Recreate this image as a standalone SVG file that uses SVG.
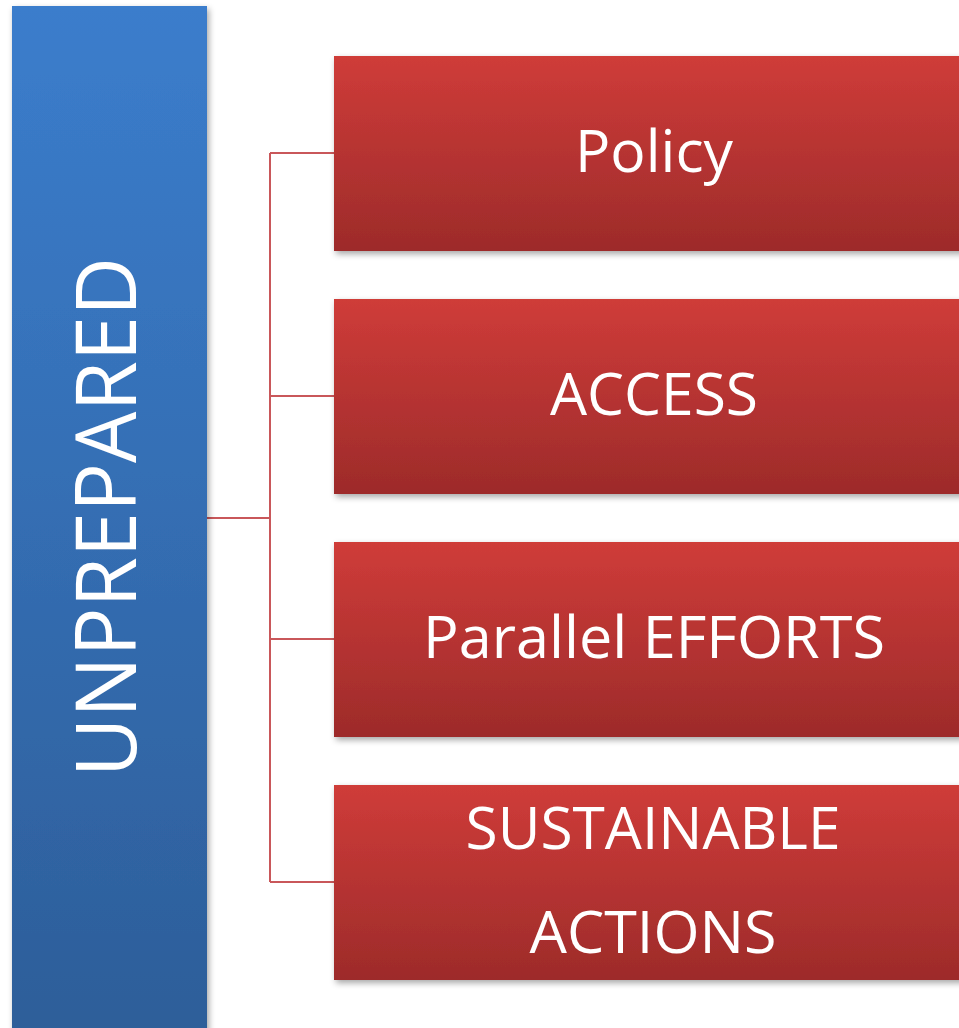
<svg xmlns="http://www.w3.org/2000/svg" width="959" height="1028" viewBox="0 0 959 1028">
<style>
.lbl{font-family:"Open Sans","Liberation Sans",sans-serif;fill:#ffffff;text-anchor:middle}
.big{font-size:58px}
.conn{fill:none;stroke:#c9575a;stroke-width:2}
</style>
<defs>
<linearGradient id="gb" x1="0" y1="0" x2="0" y2="1">
<stop offset="0" stop-color="#3b7dcc"/>
<stop offset="1" stop-color="#2d5e99"/>
</linearGradient>
<linearGradient id="gr" x1="0" y1="0" x2="0" y2="1">
<stop offset="0" stop-color="#cf3c39"/>
<stop offset="1" stop-color="#9d2b2a"/>
</linearGradient>
<filter id="sh" x="-5%" y="-5%" width="115%" height="115%">
<feDropShadow dx="2" dy="3" stdDeviation="3" flood-color="#000" flood-opacity="0.35"/>
</filter>
</defs>
<rect width="959" height="1028" fill="#ffffff"/>
<g id="connectors">
<path class="conn" d="M207 518H270M270 153V882M270 153H334M270 396H334M270 639H334M270 882H334"/>
</g>
<g id="unprepared">
<rect x="12" y="6" width="195" height="1030" fill="url(#gb)" filter="url(#sh)"/>
<text class="lbl" transform="translate(136,517) rotate(-90)" font-size="84" textLength="520" lengthAdjust="spacingAndGlyphs">UNPREPARED</text>
</g>
<g id="policy">
<rect x="334" y="56" width="640" height="195" fill="url(#gr)" filter="url(#sh)"/>
<text class="lbl big" x="654" y="172" textLength="158" lengthAdjust="spacingAndGlyphs">Policy</text>
</g>
<g id="access">
<rect x="334" y="299" width="640" height="195" fill="url(#gr)" filter="url(#sh)"/>
<text class="lbl big" x="654" y="415" textLength="208" lengthAdjust="spacingAndGlyphs">ACCESS</text>
</g>
<g id="parallel">
<rect x="334" y="542" width="640" height="195" fill="url(#gr)" filter="url(#sh)"/>
<text class="lbl big" x="654" y="658" textLength="462" lengthAdjust="spacingAndGlyphs">Parallel EFFORTS</text>
</g>
<g id="sustainable">
<rect x="334" y="785" width="640" height="195" fill="url(#gr)" filter="url(#sh)"/>
<text class="lbl big" x="653" y="849" textLength="375" lengthAdjust="spacingAndGlyphs">SUSTAINABLE</text>
<text class="lbl big" x="653" y="953" textLength="247" lengthAdjust="spacingAndGlyphs">ACTIONS</text>
</g>
</svg>
